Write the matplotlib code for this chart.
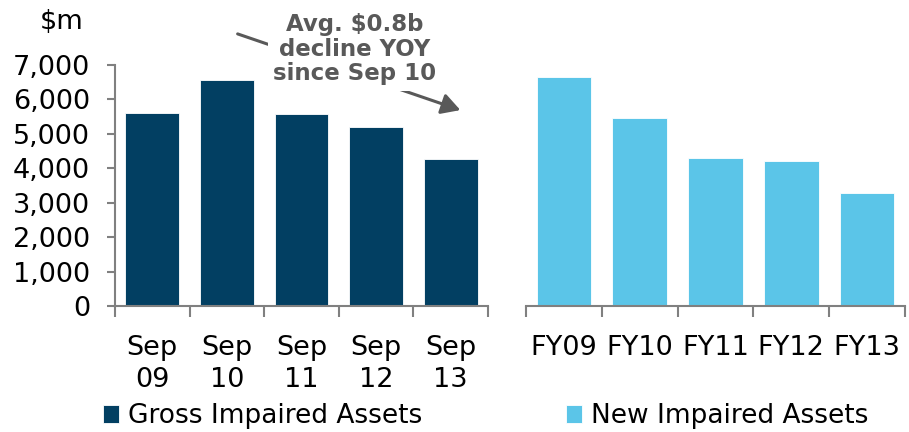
import matplotlib
matplotlib.use("Agg")
import matplotlib.pyplot as plt
import numpy as np

# chart values ($m)
gross_labels = ["Sep\n09", "Sep\n10", "Sep\n11", "Sep\n12", "Sep\n13"]
gross_values = [5600, 6570, 5580, 5200, 4270]
new_labels = ["FY09", "FY10", "FY11", "FY12", "FY13"]
new_values = [6650, 5460, 4300, 4210, 3280]
y_ticks = [0, 1000, 2000, 3000, 4000, 5000, 6000, 7000]

dark = "#023F62"
light = "#5BC5E8"
grey = "#808080"

plt.rcParams["font.family"] = ["DejaVu Sans"]

fig = plt.figure(figsize=(9.09, 4.32), dpi=100)
W, H = 909, 432
ax1 = fig.add_axes([115 / W, 1 - 306 / H, (488 - 115) / W, (306 - 65) / H])
ax2 = fig.add_axes([526 / W, 1 - 306 / H, (905 - 526) / W, (306 - 65) / H])


def style_axis(ax, values, labels, color, show_y):
    x = np.arange(len(values))
    bars = ax.bar(x, values, width=0.72, color=color, edgecolor="white",
                  linewidth=0.6)
    ax.set_xlim(-0.5, len(values) - 0.5)
    ax.set_ylim(0, 7000)
    ax.set_xticks(x)
    ax.set_xticklabels(labels, fontsize=19.5, linespacing=1.28)
    ax.tick_params(axis="x", which="major", length=0, pad=21)
    ax.set_xticks(np.arange(-0.5, len(values), 1.0), minor=True)
    ax.tick_params(axis="x", which="minor", length=8, width=1.5, color=grey,
                   direction="out")
    for s in ["top", "right"]:
        ax.spines[s].set_visible(False)
    ax.spines["bottom"].set_color(grey)
    ax.spines["bottom"].set_linewidth(1.5)
    if show_y:
        ax.set_yticks(y_ticks)
        ax.set_yticklabels([f"{v:,}" for v in y_ticks], fontsize=19.5)
        ax.tick_params(axis="y", length=6, width=1.5, color=grey, pad=12)
        ax.spines["left"].set_color(grey)
        ax.spines["left"].set_linewidth(1.5)
    else:
        ax.spines["left"].set_visible(False)
        ax.set_yticks([])
    return bars


b1 = style_axis(ax1, gross_values, gross_labels, dark, True)
b2 = style_axis(ax2, new_values, new_labels, light, False)

fig.text(40 / W, 1 - 22 / H, "$m", fontsize=19.5, va="center", ha="left")

# annotation with arrow passing behind the text
fig.patches.append(matplotlib.patches.FancyArrowPatch(
    (235 / W, 1 - 33 / H), (463 / W, 1 - 111 / H), transform=fig.transFigure,
    arrowstyle="-|>,head_length=0.8,head_width=0.45", mutation_scale=14,
    color="#595959", linewidth=2.2, zorder=1))
fig.text(355 / W, 1 - 49 / H, "Avg. $0.8b\ndecline YOY\nsince Sep 10",
         fontsize=16.5, fontweight="bold", color="#595959", ha="center",
         va="center", linespacing=1.1, zorder=3,
         bbox=dict(boxstyle="square,pad=0.25", fc="white", ec="none"))

# legends
fig.legend([b1], ["Gross Impaired Assets"], loc="center left",
           bbox_to_anchor=(103 / W, 1 - 416 / H), frameon=False, fontsize=19,
           handlelength=0.6, handleheight=0.7, handletextpad=0.35,
           borderpad=0, borderaxespad=0)
fig.legend([b2], ["New Impaired Assets"], loc="center left",
           bbox_to_anchor=(566 / W, 1 - 416 / H), frameon=False, fontsize=19,
           handlelength=0.6, handleheight=0.7, handletextpad=0.35,
           borderpad=0, borderaxespad=0)

fig.savefig("out.png", dpi=100)
